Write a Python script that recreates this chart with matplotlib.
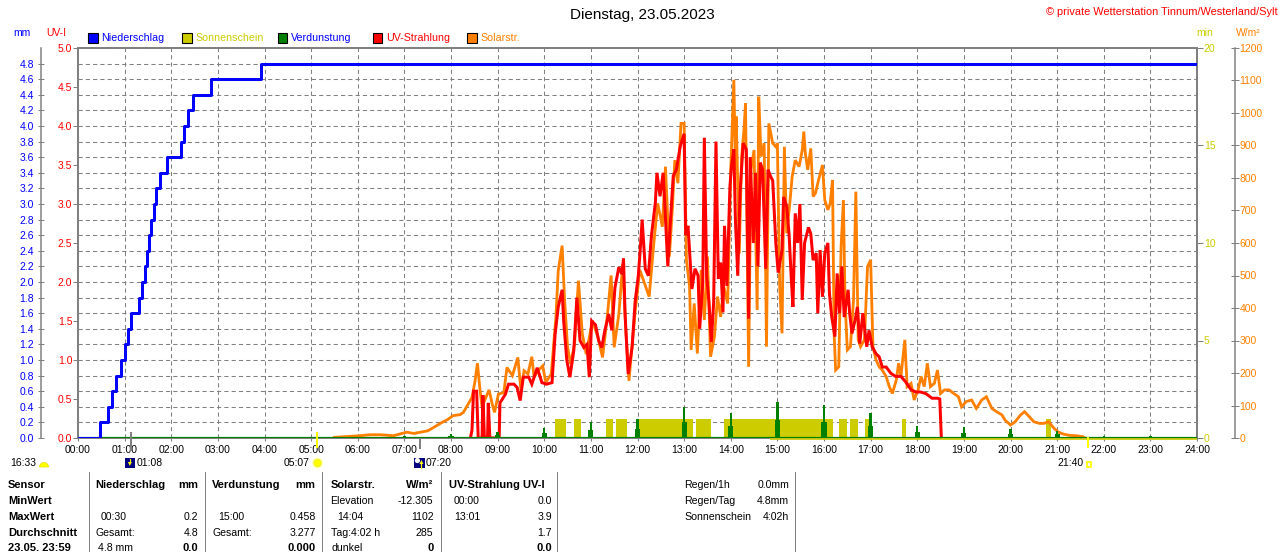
import matplotlib
matplotlib.use("Agg")
import matplotlib.pyplot as plt
from matplotlib.patches import Rectangle, Wedge, Circle, Polygon
import numpy as np

plt.rcParams['font.family'] = ['Liberation Sans', 'DejaVu Sans']

# ---------------- data ----------------
title = "Dienstag, 23.05.2023"
copyright_txt = "\u00a9 private Wetterstation Tinnum/Westerland/Sylt"
hour_labels = ["00:00", "01:00", "02:00", "03:00", "04:00", "05:00", "06:00", "07:00",
               "08:00", "09:00", "10:00", "11:00", "12:00", "13:00", "14:00", "15:00",
               "16:00", "17:00", "18:00", "19:00", "20:00", "21:00", "22:00", "23:00", "24:00"]

legend_names = ["Niederschlag", "Sonnenschein", "Verdunstung", "UV-Strahlung", "Solarstr."]

# cumulative precipitation (mm)
rain_times = ["00:28", "00:39", "00:44", "00:49", "00:55", "01:00", "01:04", "01:08",
              "01:18", "01:23", "01:26", "01:29", "01:31", "01:34", "01:38", "01:41",
              "01:46", "01:54", "02:13", "02:17", "02:22", "02:28", "02:51", "03:55"]
rain_mm = [0.2, 0.4, 0.6, 0.8, 1.0, 1.2, 1.4, 1.6,
           1.8, 2.0, 2.2, 2.4, 2.6, 2.8, 3.0, 3.2,
           3.4, 3.6, 3.8, 4.0, 4.2, 4.4, 4.6, 4.8]

# hourly evaporation (mm)
evap_hours = [1, 2, 3, 4, 5, 6, 7, 8, 9, 10, 11, 12, 13, 14, 15, 16, 17, 18, 19, 20, 21, 22, 23]
evap_mm = [0.01, 0.01, 0.01, 0.01, 0.01, 0.015, 0.02, 0.045, 0.08, 0.125, 0.21, 0.24,
           0.40, 0.32, 0.458, 0.42, 0.32, 0.16, 0.14, 0.11, 0.09, 0.02, 0.02]

# sunshine periods (minutes of sunshine per minute)
sun_start = ["10:14", "10:38", "11:20", "11:32", "11:58", "13:15", "13:21", "13:51",
             "16:19", "16:33", "16:53", "17:40", "20:46"]
sun_end = ["10:28", "10:47", "11:28", "11:46", "13:12", "13:20", "13:34", "16:12",
           "16:30", "16:44", "16:58", "17:46", "20:52"]
sun_min = [1, 1, 1, 1, 1, 1, 1, 1, 1, 1, 1, 1, 1]

# solar radiation (W/m2)
solar_times = [
    "05:30", "05:44",
    "06:03", "06:16", "06:29", "06:46", "06:55",
    "07:03", "07:12", "07:21", "07:30", "07:38", "07:47", "07:55",
    "08:03", "08:12", "08:16", "08:21", "08:27", "08:31", "08:34", "08:37", "08:40", "08:44", "08:49", "08:53", "08:56",
    "09:01", "09:08", "09:12", "09:19", "09:26", "09:30", "09:34", "09:39", "09:44", "09:47", "09:52", "09:58",
    "10:02", "10:09", "10:15", "10:18", "10:23", "10:26", "10:30", "10:34", "10:39", "10:44", "10:49", "10:54",
    "11:02", "11:09", "11:15", "11:21", "11:26", "11:30", "11:36", "11:41", "11:45", "11:49", "11:51", "11:57",
    "12:03", "12:09", "12:15", "12:21", "12:26", "12:32", "12:36", "12:41", "12:45", "12:48", "12:52", "12:56",
    "13:00", "13:03", "13:07", "13:09", "13:13", "13:17", "13:22", "13:26", "13:30", "13:34", "13:39", "13:43", "13:47", "13:51", "13:56",
    "14:00", "14:04", "14:06", "14:07", "14:11", "14:14", "14:17", "14:19", "14:23", "14:26", "14:30", "14:34", "14:36", "14:39", "14:43", "14:46", "14:49", "14:54", "14:58",
    "15:00", "15:03", "15:06", "15:09", "15:12", "15:16", "15:19", "15:23", "15:28", "15:32", "15:34", "15:36", "15:39", "15:43", "15:46", "15:49", "15:53", "15:58",
    "16:01", "16:05", "16:08", "16:11", "16:13", "16:15", "16:19", "16:22", "16:25", "16:27", "16:30", "16:34", "16:38", "16:41", "16:44", "16:47", "16:52", "16:56",
    "17:00", "17:03", "17:07", "17:11", "17:15", "17:20", "17:24", "17:28", "17:33", "17:36", "17:39", "17:44", "17:47", "17:52", "17:56",
    "18:01", "18:05", "18:09", "18:13", "18:17", "18:22", "18:26", "18:30", "18:35", "18:41", "18:47", "18:53", "18:57",
    "19:03", "19:10", "19:16", "19:23", "19:29", "19:36", "19:42", "19:49", "19:53",
    "20:00", "20:06", "20:13", "20:18", "20:24", "20:30", "20:37", "20:43", "20:49", "20:56",
    "21:01", "21:08", "21:16", "21:25", "21:33", "21:36"]
solar_wm2 = [
    2, 4,
    7, 10, 10, 7, 13,
    18, 14, 18, 22, 33, 46, 56,
    69, 72, 79, 100, 125, 176, 230, 156, 94, 120, 148, 105, 79,
    135, 140, 217, 192, 248, 146, 207, 197, 250, 187, 207, 222,
    171, 197, 371, 515, 592, 433, 279, 228, 289, 484, 320, 258,
    361, 310, 248, 371, 500, 279, 381, 535, 330, 176, 230, 390,
    517, 476, 435, 599, 722, 650, 835, 558, 712, 855, 784, 968,
    968, 548, 466, 271, 414, 260, 517, 363, 558, 250, 312, 435, 373, 466, 414,
    825, 1102, 825, 989, 568, 866, 948, 1030, 219, 825, 886, 394, 1050, 866, 907, 281, 968, 907, 896,
    907, 466, 322, 896, 630, 722, 804, 855, 835, 886, 943, 876, 825, 891, 743, 753, 794, 840,
    732, 702, 722, 794, 322, 209, 219, 589, 732, 425, 271, 281, 425, 758, 302, 281, 302, 527,
    548, 281, 240, 219, 209, 189, 158, 137, 178, 230, 189, 302, 158, 168, 117,
    148, 189, 158, 230, 158, 168, 209, 137, 148, 148, 137, 127, 96,
    112, 117, 91, 117, 127, 91, 81, 71, 55,
    40, 50, 71, 81, 66, 50, 45, 45, 50, 30,
    19, 12, 8, 7, 4, 0]

# UV index
uv_times = [
    "08:25", "08:27", "08:29", "08:33", "08:35", "08:40", "08:41", "08:43", "08:47", "08:48", "08:50",
    "09:02", "09:03", "09:10", "09:14", "09:21", "09:25", "09:29", "09:33", "09:40", "09:44", "09:51", "09:57",
    "10:03", "10:10", "10:14", "10:18", "10:23", "10:25", "10:29", "10:33", "10:38", "10:42", "10:46", "10:51", "10:55", "10:58",
    "11:01", "11:06", "11:10", "11:14", "11:18", "11:23", "11:27", "11:31", "11:36", "11:40", "11:42", "11:44", "11:48", "11:53", "11:57",
    "12:01", "12:03", "12:06", "12:10", "12:14", "12:18", "12:23", "12:25", "12:29", "12:33", "12:35", "12:39", "12:42", "12:46", "12:50", "12:55",
    "13:00", "13:02", "13:05", "13:10", "13:14", "13:18", "13:20", "13:24", "13:26", "13:29", "13:32", "13:35", "13:38", "13:41", "13:44", "13:47", "13:50", "13:52", "13:55", "13:59",
    "14:01", "14:04", "14:06", "14:09", "14:12", "14:16", "14:20", "14:23", "14:25", "14:29", "14:32", "14:35", "14:38", "14:41", "14:45", "14:48", "14:51", "14:54", "14:58",
    "15:01", "15:06", "15:08", "15:12", "15:15", "15:18", "15:20", "15:23", "15:26", "15:29", "15:32", "15:35", "15:40", "15:43", "15:46", "15:50", "15:52", "15:55", "15:58",
    "16:01", "16:05", "16:07", "16:10", "16:14", "16:17", "16:20", "16:23", "16:26", "16:31", "16:33", "16:36", "16:40", "16:43", "16:46", "16:50", "16:55", "16:58",
    "17:02", "17:07", "17:11", "17:15", "17:20", "17:26", "17:32", "17:39", "17:45", "17:52", "17:58",
    "18:04", "18:11", "18:19", "18:26", "18:29", "18:31"]
uv_index = [
    0, 0.1, 0.6, 0.6, 0, 0, 0.55, 0, 0, 0.45, 0,
    0, 0.45, 0.56, 0.69, 0.69, 0.65, 0.48, 0.78, 0.78, 0.69, 0.9, 0.71,
    0.69, 0.71, 1.33, 1.68, 1.9, 1.5, 1.0, 0.78, 1.12, 1.8, 1.25, 1.16, 1.2, 0.78,
    1.5, 1.45, 1.25, 1.16, 1.38, 1.59, 1.38, 1.93, 2.19, 2.1, 2.3, 1.59, 0.82, 1.16, 1.75,
    2.08, 2.34, 2.8, 2.17, 2.08, 2.6, 3.02, 3.4, 3.1, 3.4, 3.02, 2.2, 2.72, 3.36, 3.44, 3.74,
    3.9, 2.6, 2.72, 1.91, 2.17, 2.08, 1.4, 2.0, 3.85, 2.08, 1.74, 1.23, 1.74, 3.8, 2.04, 2.25, 1.61, 2.72, 1.95, 3.23,
    3.49, 3.7, 2.8, 2.08, 3.15, 3.78, 3.7, 1.53, 3.6, 2.5, 3.4, 2.2, 3.53, 3.44, 2.17, 3.44, 3.36, 3.3, 2.5,
    2.12, 2.41, 3.09, 2.97, 2.62, 2.03, 1.68, 2.88, 2.5, 3.0, 1.77, 2.5, 2.7, 2.62, 2.28, 2.37, 1.6, 2.41, 1.81,
    2.37, 2.5, 1.85, 1.55, 1.3, 2.11, 1.6, 2.2, 1.55, 1.9, 1.6, 1.34, 1.51, 1.68, 1.21, 1.6, 1.17, 1.38,
    1.17, 1.08, 1.04, 0.91, 0.91, 0.83, 0.79, 0.79, 0.72, 0.62, 0.59,
    0.59, 0.57, 0.51, 0.51, 0.5, 0]

# sun / moon events below the axis
event_times = ["16:33", "01:08", "05:07", "07:20", "21:40"]
yellow_line_from = "14:50"

# statistics table
table_rows = ["Sensor", "MinWert", "MaxWert", "Durchschnitt", "23.05. 23:59"]
summary_labels = ["Regen/1h", "Regen/Tag", "Sonnenschein"]
summary_values = ["0.0mm", "4.8mm", "4:02h"]


def hm(s):
    h, m = s.split(":")
    return int(h) + int(m) / 60.0


# ---------------- figure ----------------
W, H = 1280, 552
L, R, T, B = 78, 1197, 48, 438
fig = plt.figure(figsize=(W / 100, H / 100), dpi=100)
rect = [L / W, 1 - B / H, (R - L) / W, (B - T) / H]

GRID = '#808080'
BLUE = '#0000FF'
RED = '#FF0000'
ORANGE = '#FF8000'
YEL = '#CCCC00'
GREEN = '#008000'
PX = 0.72  # points per pixel

# background axes: grid, frame, x labels
axg = fig.add_axes(rect, zorder=0)
axg.set_xlim(0, 24)
axg.set_ylim(0, 5)
axg.set_xticks(range(25))
axg.set_xticklabels(hour_labels)
axg.set_yticks(np.arange(0, 5.001, 0.2))
axg.grid(True, color=GRID, lw=0.75, ls=(0, (4, 3)))
axg.tick_params(axis='y', left=False, labelleft=False)
axg.tick_params(axis='x', length=2.2, color=GRID, labelsize=7.5, pad=3.0)
for s in ['left', 'top', 'right']:
    axg.spines[s].set_color(GRID)
    axg.spines[s].set_linewidth(2 * PX)
axg.spines['bottom'].set_color(GRID)
axg.spines['bottom'].set_linewidth(1 * PX)

# sunshine axis (min)
axs = fig.add_axes(rect, zorder=1, sharex=axg)
axs.patch.set_visible(False)
axs.set_ylim(0, 20)
axs.yaxis.tick_right()
axs.set_yticks([0, 5, 10, 15, 20])
axs.set_yticklabels(["0", "5", "10", "15", "20"])
axs.tick_params(axis='y', colors=GRID, labelcolor=YEL, length=6 * PX, width=1 * PX,
                pad=0.6, labelsize=7.5, direction='out')
axs.tick_params(axis='x', bottom=False, labelbottom=False)
for s in axs.spines.values():
    s.set_visible(False)
sun_s = [hm(t) for t in sun_start]
sun_w = [hm(e) - hm(s) for s, e in zip(sun_start, sun_end)]
axs.bar(sun_s, sun_min, width=sun_w, align='edge', color=YEL, linewidth=0)
axs.plot([hm(yellow_line_from), 24], [-0.045, -0.045], color=YEL, lw=1.7 * PX,
         clip_on=False, solid_capstyle='butt')

# solar axis (W/m2)
axr = fig.add_axes(rect, zorder=2, sharex=axg)
axr.patch.set_visible(False)
axr.set_ylim(0, 1200)
axr.yaxis.tick_right()
for s in ['left', 'top', 'bottom']:
    axr.spines[s].set_visible(False)
axr.spines['right'].set_position(('outward', 38 * PX))
axr.spines['right'].set_color(GRID)
axr.spines['right'].set_linewidth(1.5 * PX)
axr.set_yticks(range(0, 1201, 100))
axr.tick_params(axis='y', colors=GRID, labelcolor=ORANGE, length=8 * PX, width=1 * PX,
                pad=0.3, labelsize=7.5, direction='inout')
axr.tick_params(axis='x', bottom=False, labelbottom=False)
axr.plot([hm(t) for t in solar_times], solar_wm2, color=ORANGE, lw=2.8 * PX,
         solid_joinstyle='miter')

# UV axis
axu = fig.add_axes(rect, zorder=3, sharex=axg)
axu.patch.set_visible(False)
axu.set_ylim(0, 5)
axu.set_yticks(np.arange(0, 5.001, 0.5))
axu.set_yticklabels([f"{v:.1f}" for v in np.arange(0, 5.001, 0.5)])
axu.tick_params(axis='y', colors=GRID, labelcolor=RED, length=5 * PX, width=1 * PX,
                pad=0.5, labelsize=7.5, direction='out')
axu.tick_params(axis='x', bottom=False, labelbottom=False)
for s in axu.spines.values():
    s.set_visible(False)
axu.plot([hm(t) for t in uv_times], uv_index, color=RED, lw=3.0 * PX,
         solid_joinstyle='miter')

# mm axis (precipitation + evaporation)
axm = fig.add_axes(rect, zorder=4, sharex=axg)
axm.patch.set_visible(False)
axm.set_ylim(0, 5)
for s in ['right', 'top', 'bottom']:
    axm.spines[s].set_visible(False)
axm.spines['left'].set_position(('outward', 37 * PX))
axm.spines['left'].set_color(GRID)
axm.spines['left'].set_linewidth(1.5 * PX)
mm_ticks = np.arange(0, 4.801, 0.2)
axm.set_yticks(mm_ticks)
axm.set_yticklabels([f"{v:.1f}" for v in mm_ticks])
axm.tick_params(axis='y', colors=GRID, labelcolor=BLUE, length=5.6 * PX, width=1 * PX,
                pad=3.0, labelsize=7.5, direction='inout')
axm.tick_params(axis='x', bottom=False, labelbottom=False)
axm.axhline(0, color=GREEN, lw=2.2 * PX)
ev = np.array(evap_mm)
axm.bar(evap_hours, ev * 0.5, width=0.11, color=GREEN, linewidth=0)
axm.bar(evap_hours, ev, width=0.05, color=GREEN, linewidth=0)
rx = [0.0] + [hm(t) for t in rain_times] + [24.0]
ry = [0.0] + rain_mm + [rain_mm[-1]]
axm.plot(rx, ry, drawstyle='steps-post', color=BLUE, lw=3.0 * PX)

# ---------------- overlay (text and decorations in pixel units) ----------------
ov = fig.add_axes([0, 0, 1, 1], zorder=10)
ov.set_xlim(0, W)
ov.set_ylim(H, 0)
ov.axis('off')
ov.patch.set_visible(False)

ov.text(642, 15, title, ha='center', va='center', fontsize=11, color='black')
ov.text(1278, 12, copyright_txt, ha='right', va='center', fontsize=7.9, color=RED)

# unit labels
ov.text(22, 33, "mm", ha='center', va='center', fontsize=7.5, color=BLUE)
ov.text(56, 33, "UV-I", ha='center', va='center', fontsize=7.5, color=RED)
ov.text(1205, 33, "min", ha='center', va='center', fontsize=7.5, color=YEL)
ov.text(1248, 33, "W/m\u00b2", ha='center', va='center', fontsize=7.5, color=ORANGE)

# legend
leg_sq_x = [88, 182, 277.5, 372.5, 467]
leg_fc = [BLUE, YEL, GREEN, RED, ORANGE]
leg_tc = [BLUE, YEL, BLUE, RED, ORANGE]
for x, name, fc, tc in zip(leg_sq_x, legend_names, leg_fc, leg_tc):
    ov.add_patch(Rectangle((x, 33), 9.5, 9.5, facecolor=fc, edgecolor='black', lw=0.8))
    ov.text(x + 13.5, 38, name, ha='left', va='center', fontsize=7.7, color=tc)


def tx(t):
    return axg.transData.transform((hm(t), 0))[0]


# markers on the time axis
x_rise = tx("05:07")
x_set = tx("21:40")
x_m1 = tx("01:08")
x_m2 = tx("07:20")
ov.plot([x_rise, x_rise], [433, 447], color='#FFFF00', lw=2 * PX)
ov.plot([x_set, x_set], [438, 447], color='#FFFF00', lw=2 * PX)
ov.plot([x_m1, x_m1], [433, 450], color=GRID, lw=2 * PX)
ov.plot([x_m2, x_m2], [439, 448], color=GRID, lw=2 * PX)

# event row
ev_y = 463
ov.text(10, ev_y, event_times[0], ha='left', va='center', fontsize=7.5)
ov.add_patch(Wedge((44, 467), 4.5, 180, 360, facecolor='#FFFF00', edgecolor='#E0E000', lw=0.5))
# 01:08 icon
ov.add_patch(Rectangle((x_m1 - 6, 457.5), 10, 10.5, facecolor='#000080', edgecolor='none'))
ov.add_patch(Polygon([[x_m1 - 3, 462], [x_m1 + 1, 462], [x_m1 - 1, 466]], closed=True,
                     facecolor='#FFFF00', edgecolor='none'))
ov.plot([x_m1 - 1, x_m1 - 1], [459, 462], color='#FFFF00', lw=1.2 * PX)
ov.text(x_m1 + 5.5, ev_y, event_times[1], ha='left', va='center', fontsize=7.5)
# sunrise icon
ov.add_patch(Circle((x_rise + 1, 463), 5.5, facecolor='#FFFFB0', edgecolor='none'))
ov.add_patch(Circle((x_rise + 1, 463), 3.6, facecolor='#FFFF00', edgecolor='#E8E800', lw=0.5))
ov.text(x_rise - 7.5, ev_y, event_times[2], ha='right', va='center', fontsize=7.5)
# 07:20 icon
ov.add_patch(Rectangle((x_m2 - 5.5, 457.5), 10.5, 10.5, facecolor='#000080', edgecolor='none'))
ov.add_patch(Circle((x_m2 - 2.5, 460.5), 2.6, facecolor='white', edgecolor='none'))
ov.add_patch(Polygon([[x_m2 - 0.5, 464], [x_m2 + 3.5, 464], [x_m2 + 1.5, 460]], closed=True,
                     facecolor='#FFFF00', edgecolor='none'))
ov.plot([x_m2 + 1.5, x_m2 + 1.5], [464, 467.5], color='#FFFF00', lw=1.2 * PX)
ov.text(x_m2 + 6, ev_y, event_times[3], ha='left', va='center', fontsize=7.5)
# sunset icon
ov.add_patch(Rectangle((x_set - 1.5, 461.5), 4, 5, facecolor='none', edgecolor='#FFFF00', lw=1.2))
ov.text(x_set - 4.5, ev_y, event_times[4], ha='right', va='center', fontsize=7.5)

# table separators
for x in [88.6, 205, 322, 441, 557, 795]:
    ov.plot([x, x], [472, 552], color=GRID, lw=1 * PX)

row_y = [485, 501, 517, 532.5, 548]
FS = 7.6
FB = 8.0
for y, lab in zip(row_y, table_rows):
    ov.text(8, y, lab, ha='left', va='center', fontsize=FB, fontweight='bold')

cells = [
    # (x, row, text, align, bold)
    (95, 0, "Niederschlag", 'left', True), (198, 0, "mm", 'right', True),
    (212, 0, "Verdunstung", 'left', True), (315.5, 0, "mm", 'right', True),
    (330.5, 0, "Solarstr.", 'left', True), (433.5, 0, "W/m\u00b2", 'right', True),
    (449, 0, "UV-Strahlung UV-I", 'left', True),
    (330.5, 1, "Elevation", 'left', False), (433.5, 1, "-12.305", 'right', False),
    (454, 1, "00:00", 'left', False), (552, 1, "0.0", 'right', False),
    (101, 2, "00:30", 'left', False), (198, 2, "0.2", 'right', False),
    (218, 2, "15:00", 'left', False), (315.5, 2, "0.458", 'right', False),
    (337, 2, "14:04", 'left', False), (433.5, 2, "1102", 'right', False),
    (454, 2, "13:01", 'left', False), (552, 2, "3.9", 'right', False),
    (95, 3, "Gesamt:", 'left', False), (198, 3, "4.8", 'right', False),
    (212.5, 3, "Gesamt:", 'left', False), (315.5, 3, "3.277", 'right', False),
    (331, 3, "Tag:4:02 h", 'left', False), (433.5, 3, "285", 'right', False),
    (552, 3, "1.7", 'right', False),
    (98, 4, "4.8 mm", 'left', False), (198, 4, "0.0", 'right', True),
    (315.5, 4, "0.000", 'right', True),
    (331, 4, "dunkel", 'left', False), (433.5, 4, "0", 'right', True),
    (552, 4, "0.0", 'right', True),
]
for x, r, s, ha, bold in cells:
    ov.text(x, row_y[r], s, ha=ha, va='center', fontsize=FB if bold else FS,
            fontweight='bold' if bold else 'normal')

for i, (lab, val) in enumerate(zip(summary_labels, summary_values)):
    ov.text(684, row_y[i], lab, ha='left', va='center', fontsize=FS)
    ov.text(789, row_y[i], val, ha='right', va='center', fontsize=FS)

fig.savefig("out.png", dpi=100)
